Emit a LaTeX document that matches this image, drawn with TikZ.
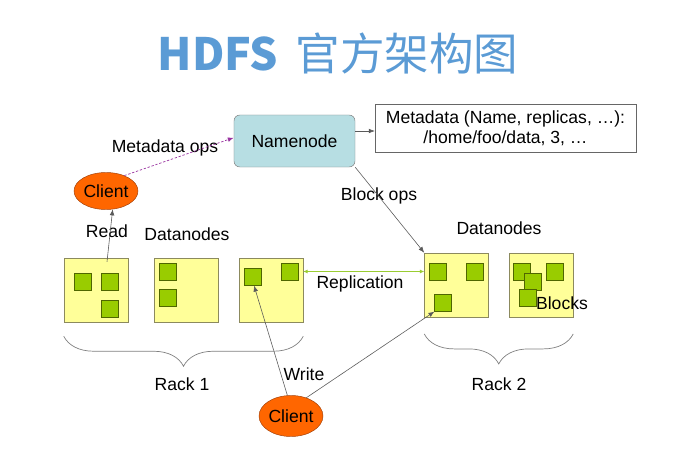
\documentclass[tikz,border=0pt]{standalone}
\usepackage{fontspec}
\setmainfont{Liberation Sans}
\newfontfamily\cjk{Noto Sans CJK SC}
\usepackage{xcolor}
\usetikzlibrary{arrows.meta,positioning,shapes.geometric,decorations.pathreplacing}
\definecolor{TitleBlue}{HTML}{5B9BD5}
\definecolor{NameFill}{HTML}{B7DEE3}
\definecolor{NodeFill}{HTML}{FFFF99}
\definecolor{NodeLine}{HTML}{8C8A5E}
\definecolor{BlockFill}{HTML}{99CC00}
\definecolor{BlockLine}{HTML}{4F6600}
\definecolor{ClientFill}{HTML}{FF6600}
\definecolor{ClientLine}{HTML}{A0400A}
\definecolor{ReplGreen}{HTML}{9ACD32}
\definecolor{OpsPurple}{HTML}{9933A0}
\definecolor{LineGray}{HTML}{5A5A5A}
\tikzset{
  lbl/.style={font=\fontsize{15}{17}\selectfont,inner sep=0pt},
  namebox/.style={draw=gray,rounded corners=5pt,fill=NameFill,
              minimum width=3.63cm,minimum height=1.56cm,lbl},
  metabox/.style={draw=gray!80!black,fill=white,align=center,
              minimum width=7.83cm,minimum height=1.44cm,font=\fontsize{15}{17}\selectfont},
  client/.style={ellipse,draw=ClientLine,fill=ClientFill,minimum width=1.92cm,
              minimum height=1.11cm,inner sep=0pt,font=\fontsize{15}{17}\selectfont},
  datanode/.style={draw=NodeLine,fill=NodeFill,minimum size=1.92cm,inner sep=0pt},
  block/.style={draw=BlockLine,fill=BlockFill,minimum size=0.5cm,inner sep=0pt},
  flow/.style={-{Latex[length=1.8mm,width=1.4mm]},draw=LineGray,line width=0.5pt},
  repl/.style={{Latex[length=1.3mm,width=1.2mm]}-{Latex[length=1.3mm,width=1.2mm]},
              draw=ReplGreen,line width=0.9pt},
  metaops/.style={-{Latex[length=1.8mm,width=1.4mm]},draw=OpsPurple,
              dash pattern=on 2pt off 1.5pt,line width=0.6pt},
  rack/.style={draw=gray,line width=0.6pt,decorate,
              decoration={brace,mirror,amplitude=0.9cm}}
}
\begin{document}
\begin{tikzpicture}[x=0.03cm,y=-0.03cm]
  \useasboundingbox (0,0) rectangle (693,453);
  \node[font=\fontsize{38}{42}\selectfont\cjk,text=TitleBlue] (title) at (338,53)
    {{\bfseries HDFS}\, 官方架构图};

  \node[namebox] (nn) at (294.5,141) {Namenode};
  \node[metabox] (meta) at (505.5,128) {Metadata (Name, replicas, \dots):\\/home/foo/data, 3, \dots};
  \node[client] (cl1) at (106,191) {Client};
  \node[client,minimum height=1.23cm] (cl2) at (291,416) {Client};

  % datanodes
  \node[datanode] (dn1) at (96,290) {};
  \node[datanode] (dn2) at (186,290) {};
  \node[datanode] (dn3) at (271,290) {};
  \node[datanode] (dn4) at (456.5,285) {};
  \node[datanode] (dn5) at (541,285) {};
  \foreach \n/\x/\y in {b1/82.5/282,b2/109.5/282,b3/109.5/308.5,
      b4/167.5/271.5,b5/167.5/298,b6/252.5/277,b7/289.5/271.5,
      b8/438/271.5,b9/475/271.5,b10/443/303,
      b11/522/271.5,b12/555/271.5,b13/533/282,b14/527.5/298}
    \node[block] (\n) at (\x,\y) {};

  % labels
  \node[lbl] (metaopslbl) at (165,148) {Metadata ops};
  \node[lbl] (readlbl) at (107,231) {Read};
  \node[lbl] (dnlbl1) at (187,234) {Datanodes};
  \node[lbl] (dnlbl2) at (499,228) {Datanodes};
  \node[lbl] (blockopslbl) at (379,196) {Block ops};
  \node[lbl] (repllbl) at (360,284) {Replication};
  \node[lbl] (blockslbl) at (562,303) {Blocks};
  \node[lbl] (writelbl) at (304,374) {Write};
  \node[lbl] (rack1) at (182,384) {Rack 1};
  \node[lbl] (rack2) at (499,384) {Rack 2};

  \draw[flow] ([yshift=0.3cm]nn.east) -- ([yshift=0.3cm]nn.east -| meta.west);
  \draw[metaops] (cl1.40) -- ([yshift=0.1cm]nn.west);
  \draw[flow] ([xshift=0.33cm,yshift=-0.12cm]dn1.north) -- (cl1.-70);
  \draw[flow] (nn.south east) -- (dn4.north west);
  \draw[repl] (b7 -| dn3.east) -- (b7 -| dn4.west);
  \draw[flow] (cl2.100) -- (b6.-80);
  \draw[flow] (cl2.50) -- (b10.south west);

  \draw[rack] ([yshift=-0.42cm]dn1.south west) -- ([yshift=-0.42cm]dn3.south east);
  \draw[rack] ([yshift=-0.5cm]dn4.south west) -- ([yshift=-0.5cm]dn5.south east);
\end{tikzpicture}
\end{document}
